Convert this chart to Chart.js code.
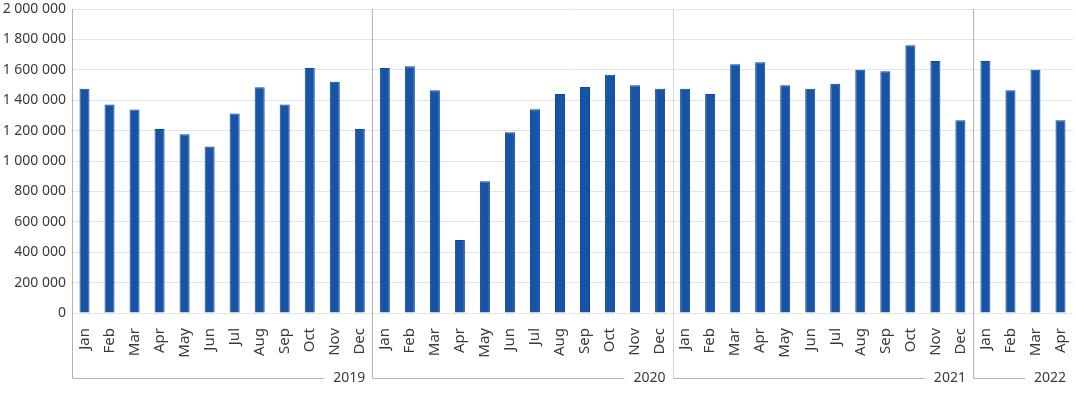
<!DOCTYPE html>
<html>
<head>
<meta charset="utf-8">
<script src="https://cdn.jsdelivr.net/npm/chart.js@4"></script>
<style>
  html, body { margin: 0; padding: 0; background: #fff; }
  #wrap { width: 1076px; height: 394px; }
</style>
</head>
<body>
<div id="wrap"><canvas id="chart" width="1076" height="394"></canvas></div>
<script>
// ─── Data ─────────────────────────────────────────────────────────────────────
const months = ['Jan','Feb','Mar','Apr','May','Jun','Jul','Aug','Sep','Oct','Nov','Dec'];
const years = ['2019', '2020', '2021', '2022'];
const monthsPerYear = [12, 12, 12, 4];

const values2019 = [1476000, 1371000, 1338000, 1211000, 1176000, 1095000, 1312000, 1485000, 1371000, 1612000, 1522000, 1211000];
const values2020 = [1612000, 1623000, 1465000, 480000, 867000, 1189000, 1340000, 1441000, 1487000, 1568000, 1498000, 1476000];
const values2021 = [1476000, 1441000, 1636000, 1649000, 1498000, 1476000, 1509000, 1601000, 1590000, 1761000, 1658000, 1268000];
const values2022 = [1658000, 1465000, 1601000, 1268000];

const yTicks = [0, 200000, 400000, 600000, 800000, 1000000, 1200000, 1400000, 1600000, 1800000, 2000000];

const labels = [];
monthsPerYear.forEach((n) => { for (let i = 0; i < n; i++) labels.push(months[i]); });
const data = [...values2019, ...values2020, ...values2021, ...values2022];

const FONT = '"Noto Sans", sans-serif';
const TEXT = '#3a3a3a';

function fmt(v) {
  return String(v).replace(/\B(?=(\d{3})+(?!\d))/g, ' ');
}

// ─── Year groups: separators, baseline and labels under the month ticks ──────
const yearGroups = {
  id: 'yearGroups',
  afterDraw(chart) {
    const { ctx, chartArea, scales } = chart;
    const x = scales.x;
    const step = x.getPixelForValue(1) - x.getPixelForValue(0);
    const lineY = 378.5;
    ctx.save();
    ctx.lineWidth = 1;
    ctx.font = '14px ' + FONT;
    ctx.fillStyle = TEXT;
    ctx.textAlign = 'right';
    ctx.textBaseline = 'middle';

    let start = 0;
    monthsPerYear.forEach((n, i) => {
      const left = Math.round(x.getPixelForValue(start) - step / 2) + 0.5;
      const right = x.getPixelForValue(start + n - 1) + step / 2;
      ctx.strokeStyle = i === 2 ? '#d4d4d4' : '#b4b4b4';
      ctx.beginPath();
      ctx.moveTo(left, chartArea.top);
      ctx.lineTo(left, lineY);
      ctx.stroke();

      const labelRight = right - 7;
      const w = ctx.measureText(years[i]).width;
      ctx.strokeStyle = '#b4b4b4';
      ctx.beginPath();
      ctx.moveTo(left, lineY);
      ctx.lineTo(labelRight - w - 9, lineY);
      ctx.stroke();
      ctx.fillText(years[i], labelRight, lineY);
      start += n;
    });
    ctx.restore();
  },
};

new Chart(document.getElementById('chart'), {
  type: 'bar',
  data: {
    labels,
    datasets: [{
      data,
      backgroundColor: '#1854a6',
      borderColor: '#0f479d',
      borderWidth: 1,
      barPercentage: 0.8,
      categoryPercentage: 0.5,
    }],
  },
  options: {
    responsive: false,
    animation: false,
    layout: { padding: { top: 9, right: 3, left: 0, bottom: 0 } },
    plugins: { legend: { display: false }, tooltip: { enabled: false } },
    scales: {
      x: {
        grid: { display: false, drawTicks: false },
        border: { display: false },
        ticks: {
          color: TEXT,
          font: { family: FONT, size: 15 },
          minRotation: 90,
          maxRotation: 90,
          padding: 15,
          autoSkip: false,
        },
        afterFit: (s) => { s.height = 81; s.paddingLeft = 0; s.paddingRight = 0; },
      },
      y: {
        min: 0,
        max: 2000000,
        afterBuildTicks: (s) => { s.ticks = yTicks.map((v) => ({ value: v })); },
        grid: { color: '#e4e4e4', drawTicks: false },
        border: { display: false },
        ticks: {
          color: TEXT,
          font: { family: FONT, size: 14 },
          padding: 6,
          callback: (v) => fmt(v),
        },
        afterFit: (s) => { s.width = 72; s.paddingTop = 0; s.paddingBottom = 0; },
      },
    },
  },
  plugins: [yearGroups],
});
</script>
</body>
</html>
